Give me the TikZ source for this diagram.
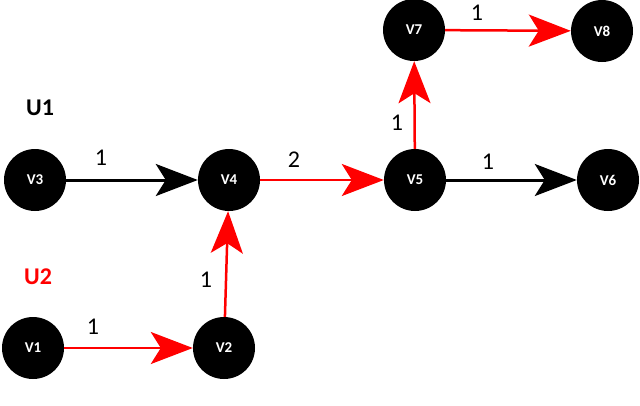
\documentclass[tikz,border=0pt]{standalone}
\usepackage{fontspec}
\newfontfamily\carlito{Carlito}
\usetikzlibrary{arrows.meta}
\begin{document}
\begin{tikzpicture}[x=1pt,y=-1pt,
  vtx/.style={circle,fill=black,minimum size=62pt,inner sep=0pt,text=white,font=\carlito\bfseries\fontsize{15}{15}\selectfont},
  tipA/.style={-{Stealth[length=42pt,width=32pt,inset=10pt]}},
  blk/.style={tipA,line width=3pt,black},
  redge/.style={tipA,line width=2.5pt,red},
  wt/.style={font=\carlito\fontsize{24}{24}\selectfont,inner sep=0pt},
  grp/.style={font=\carlito\bfseries\fontsize{24}{24}\selectfont,inner sep=0pt}]
\useasboundingbox (0,0) rectangle (640,405);
\node[vtx] (v1) at (33,348) {V1};
\node[vtx] (v2) at (224,348) {V2};
\node[vtx] (v3) at (35,180) {V3};
\node[vtx] (v4) at (229,180) {V4};
\node[vtx] (v5) at (415,180) {V5};
\node[vtx] (v6) at (608,180) {V6};
\node[vtx] (v7) at (414,30) {V7};
\node[vtx] (v8) at (602,31) {V8};
\node[grp,text=black] (u1) at (40,108) {U1};
\node[grp,text=red] (u2) at (38,277) {U2};
\draw[blk] (v3) -- (v4);
\draw[blk] (v5) -- (v6);
\draw[redge] (v4) -- (v5);
\draw[redge] (v7) -- (v8);
\draw[redge] (v5) -- (v7);
\draw[redge] (v2) -- (v4);
\draw[redge] (v1) -- (v2);
\node[wt] (w34) at (101,158) {1};
\node[wt] (w45) at (294,160) {2};
\node[wt] (w56) at (488,162) {1};
\node[wt] (w78) at (477,13) {1};
\node[wt] (w57) at (397,123) {1};
\node[wt] (w24) at (206,280) {1};
\node[wt] (w12) at (93,327) {1};
\end{tikzpicture}
\end{document}
